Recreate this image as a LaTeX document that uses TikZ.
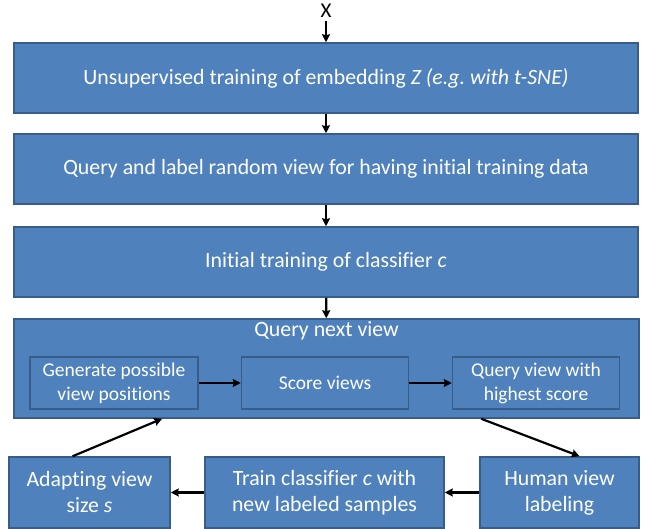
\documentclass[tikz,border=0pt]{standalone}
\usepackage{fontspec}
\setmainfont{Carlito}[Ligatures=NoCommon]
\usepackage{tikz}
\usetikzlibrary{calc, arrows.meta}
\definecolor{boxblue}{HTML}{4F81BD}
\definecolor{boxedge}{HTML}{385D8A}

\begin{document}
\begin{tikzpicture}[x=1pt, y=-1pt,
        block/.style={draw=boxedge, line width=1.5pt, fill=boxblue, text=white, inner sep=0pt,
            align=center, font=\fontsize{21.8}{26}\selectfont},
        subblock/.style={block, font=\fontsize{19.5}{24}\selectfont},
        flow/.style={line width=2.2pt, -{Stealth[length=8pt, width=8pt, inset=1pt]}}]
        \useasboundingbox (0,0) rectangle (651,529);

        % main chain
        \node (x) at (326, 11) {\fontsize{21}{22}\selectfont X};
        \node[block, minimum width=624pt, minimum height=70pt] (embed) at (326, 78)
            {Unsupervised training of embedding \textit{Z (e.g.\ with t-SNE)}};
        \node[block, minimum width=624pt, minimum height=70pt] (init) at (326, 169)
            {Query and label random view for having initial training data};
        \node[block, minimum width=624pt, minimum height=70pt] (train) at (326, 262)
            {Initial training of classifier \textit{c}};

        % query loop
        \node[block, minimum width=625pt, minimum height=99pt] (query) at (326.5, 368.5) {};
        \node[text=white, font=\fontsize{21.8}{26}\selectfont] (qtitle) at (326.5, 331) {Query next view};
        \node[subblock, minimum width=168pt, minimum height=52pt] (gen) at (114, 383)
            {Generate possible\\view positions};
        \node[subblock, minimum width=167pt, minimum height=52pt] (score) at (325, 383)
            {Score views};
        \node[subblock, minimum width=167pt, minimum height=52pt] (best) at (536, 383)
            {Query view with\\highest score};

        \node[block, minimum width=161pt, minimum height=71pt] (adapt) at (89.5, 492.5)
            {Adapting view\\size \textit{s}};
        \node[block, minimum width=239pt, minimum height=71pt] (retrain) at (324.5, 492.5)
            {Train classifier \textit{c} with\\new labeled samples};
        \node[block, minimum width=159pt, minimum height=71pt] (human) at (559.5, 492.5)
            {Human view\\labeling};

        \draw[flow] (x) -- (embed);
        \draw[flow] (embed) -- (init);
        \draw[flow] (init) -- (train);
        \draw[flow] (train) -- (query);
        \draw[flow] (gen) -- (score);
        \draw[flow] (score) -- (best);
        \draw[flow] (query.342) -- (human.61);
        \draw[flow] (human) -- (retrain);
        \draw[flow] (retrain) -- (adapt);
        \draw[flow] (adapt.115) -- (query.197.45);
    \end{tikzpicture}
\end{document}
